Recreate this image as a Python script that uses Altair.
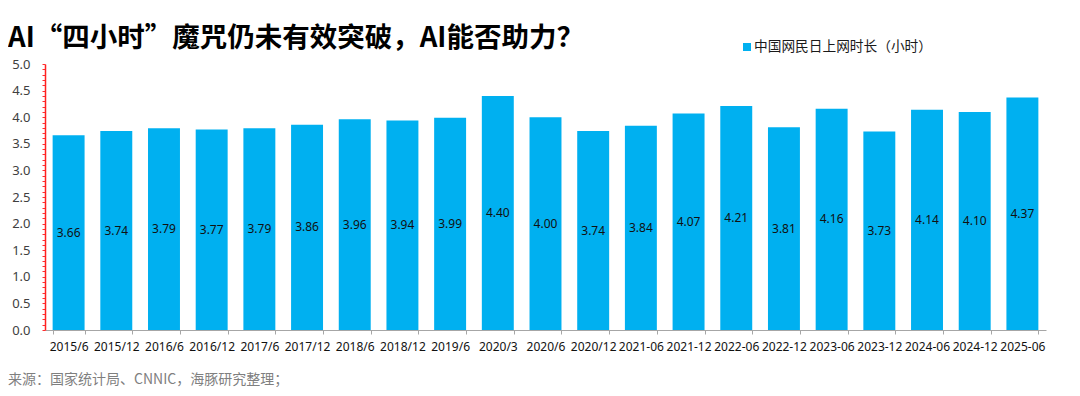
import altair as alt
import pandas as pd

periods = ["2015/6", "2015/12", "2016/6", "2016/12", "2017/6", "2017/12", "2018/6",
           "2018/12", "2019/6", "2020/3", "2020/6", "2020/12", "2021-06", "2021-12",
           "2022-06", "2022-12", "2023-06", "2023-12", "2024-06", "2024-12", "2025-06"]
hours = [3.66, 3.74, 3.79, 3.77, 3.79, 3.86, 3.96, 3.94, 3.99, 4.40, 4.00,
         3.74, 3.84, 4.07, 4.21, 3.81, 4.16, 3.73, 4.14, 4.10, 4.37]
y_ticks = [round(i * 0.1, 1) for i in range(0, 51)]

title_text = "AI“四小时”魔咒仍未有效突破，AI能否助力？"
legend_text = "中国网民日上网时长（小时）"
source_text = "来源：国家统计局、CNNIC，海豚研究整理；"

FONT = "Noto Sans CJK SC"
BLUE = "#00B0F0"

df = pd.DataFrame({"period": periods, "hours": hours})
df["half"] = df["hours"] / 2
df["label"] = df["hours"].map(lambda v: f"{v:.2f}")

x_axis = alt.Axis(labelAngle=0, labelFont="Noto Sans", labelFontSize=12,
                  labelColor="#111111", labelPadding=7, labelOverlap=False,
                  tickBand="extent", tickSize=4, tickColor="#a6a6a6",
                  domainColor="#a6a6a6", grid=False, title=None)
x_scale = alt.Scale(paddingInner=0.33, paddingOuter=0.16)

y_axis = alt.Axis(values=y_ticks, labelOverlap=False, labelBound=False,
                  labelExpr="abs(datum.value*2 - round(datum.value*2)) < 0.001 ? format(datum.value, '.1f') : ''",
                  labelFont="Noto Sans", labelFontSize=13, labelColor="#404040",
                  labelPadding=12, tickSize=3, tickColor="#ff3030",
                  domainColor="#ff2020", domainWidth=1.5, grid=False, title=None)
y_scale = alt.Scale(domain=[0, 5], nice=False, zero=True)

bars = alt.Chart(df).mark_bar(color=BLUE).encode(
    x=alt.X("period:N", sort=periods, scale=x_scale, axis=x_axis),
    y=alt.Y("hours:Q", scale=y_scale, axis=y_axis),
)

labels = alt.Chart(df).mark_text(font="Noto Sans", fontSize=12, color="#111111").encode(
    x=alt.X("period:N", sort=periods, scale=x_scale, axis=x_axis),
    y=alt.Y("half:Q", scale=y_scale, axis=y_axis),
    text="label:N",
)

one = pd.DataFrame({"k": [0]})

title = alt.Chart(one).mark_text(font=FONT, fontSize=27.5, fontWeight="bold", color="#000000",
                                 align="left", baseline="middle").encode(
    x=alt.value(-37), y=alt.value(-25), text=alt.value(title_text))

legend_sq = alt.Chart(one).mark_square(color=BLUE, size=64, opacity=1, filled=True).encode(
    x=alt.value(702), y=alt.value(-17))

legend_txt = alt.Chart(one).mark_text(font=FONT, fontSize=13.7, color="#1a1a1a",
                                      align="left", baseline="middle").encode(
    x=alt.value(709), y=alt.value(-17), text=alt.value(legend_text))

source = alt.Chart(one).mark_text(font=FONT, fontSize=14, color="#7f7f7f",
                                  align="left", baseline="middle").encode(
    x=alt.value(-37), y=alt.value(316), text=alt.value(source_text))

chart = alt.layer(bars, labels, title, legend_sq, legend_txt, source).properties(
    width=1001, height=266,
    autosize=alt.AutoSizeParams(type="none"),
    padding={"left": 37, "top": 56, "right": 26, "bottom": 58},
    background="white",
).configure_view(stroke=None)

chart.save("out.html", embed_options={"renderer": "svg", "actions": False})
